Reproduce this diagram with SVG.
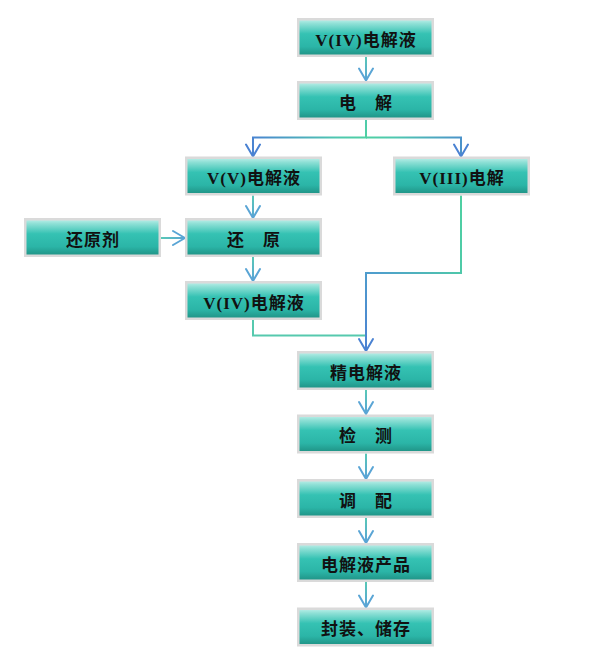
<svg xmlns="http://www.w3.org/2000/svg" width="592" height="664" viewBox="0 0 592 664">
<defs>
<linearGradient id="boxfill" x1="0" y1="0" x2="0" y2="1">
<stop offset="0" stop-color="#bdf0ea"/>
<stop offset="0.12" stop-color="#8fe0d6"/>
<stop offset="0.4" stop-color="#35c2b3"/>
<stop offset="0.75" stop-color="#2bb5a7"/>
<stop offset="1" stop-color="#1f9184"/>
</linearGradient>
<linearGradient id="gs" gradientUnits="userSpaceOnUse" x1="0" y1="0" x2="0" y2="24">
<stop offset="0" stop-color="#58c9b6"/>
<stop offset="1" stop-color="#5aa3d6"/>
</linearGradient>
<radialGradient id="gb" gradientUnits="userSpaceOnUse" cx="366" cy="137.5" r="116">
<stop offset="0" stop-color="#4fd0a2"/>
<stop offset="0.25" stop-color="#4fc8b0"/>
<stop offset="1" stop-color="#4a82d2"/>
</radialGradient>
<linearGradient id="g7" gradientUnits="userSpaceOnUse" x1="461" y1="195" x2="366" y2="351">
<stop offset="0" stop-color="#4fd0a2"/>
<stop offset="0.35" stop-color="#4fcaa8"/>
<stop offset="0.6" stop-color="#4f9fcc"/>
<stop offset="1" stop-color="#4a80d2"/>
</linearGradient>
<marker id="ah" viewBox="-14 -9 16 18" markerWidth="16" markerHeight="18" refX="0" refY="0" orient="auto" markerUnits="userSpaceOnUse">
<path d="M-12,-7 L0,0 L-12,7" fill="none" stroke="#5aa5d5" stroke-width="2" stroke-linejoin="round" stroke-linecap="round"/>
</marker>
<marker id="ahb" viewBox="-14 -9 16 18" markerWidth="16" markerHeight="18" refX="0" refY="0" orient="auto" markerUnits="userSpaceOnUse">
<path d="M-12,-7 L0,0 L-12,7" fill="none" stroke="#4a82d2" stroke-width="2" stroke-linejoin="round" stroke-linecap="round"/>
</marker>
</defs>
<style>
.box{fill:url(#boxfill);stroke:#dadada;stroke-width:2.5}
.lbl{font-family:"Liberation Serif","Noto Sans CJK SC",serif;font-size:17px;font-weight:bold;fill:#111;letter-spacing:1px;text-anchor:middle}
.c{fill:none;stroke-width:2}
.cs{stroke:url(#gs);marker-end:url(#ah)}
</style>
<rect width="592" height="664" fill="#ffffff"/>
<g id="connectors">
<path class="c cs" d="M0,0 V24" transform="translate(366,56.5)"/>
<path class="c" d="M366,120 V137.5 H253 V156.5" stroke="url(#gb)" marker-end="url(#ahb)"/>
<path class="c" d="M366,137.5 H461 V156.5" stroke="url(#gb)" marker-end="url(#ahb)"/>
<path class="c cs" d="M0,0 V22.5" transform="translate(253,195.5)"/>
<path class="c cs" d="M0,0 V24" transform="translate(161,238) rotate(-90)"/>
<path class="c cs" d="M0,0 V24" transform="translate(253,257)"/>
<path class="c" d="M253,320 V335.5 H366" stroke="#56c9ae"/>
<path class="c" d="M461,195.5 V273 H366 V351" stroke="url(#g7)" marker-end="url(#ahb)"/>
<path class="c cs" d="M0,0 V24" transform="translate(366,390)"/>
<path class="c cs" d="M0,0 V25.5" transform="translate(366,453.5)"/>
<path class="c cs" d="M0,0 V25" transform="translate(366,518)"/>
<path class="c cs" d="M0,0 V25.5" transform="translate(366,582)"/>
</g>
<g id="n1" transform="translate(297,18)"><rect class="box" x="1.25" y="1.25" width="134.5" height="36.5"/><text class="lbl" x="69" y="27.5">V(IV)电解液</text></g>
<g id="n2" transform="translate(297,81)"><rect class="box" x="1.25" y="1.25" width="134.5" height="36.5"/><text class="lbl" x="69" y="27.5">电　解</text></g>
<g id="n3" transform="translate(185,156.5)"><rect class="box" x="1.25" y="1.25" width="134.5" height="36.5"/><text class="lbl" x="69" y="27.5">V(V)电解液</text></g>
<g id="n4" transform="translate(393,156.5)"><rect class="box" x="1.25" y="1.25" width="134.5" height="36.5"/><text class="lbl" x="69" y="27.5">V(III)电解</text></g>
<g id="n5" transform="translate(24,218)"><rect class="box" x="1.25" y="1.25" width="134.5" height="36.5"/><text class="lbl" x="69" y="27.5">还原剂</text></g>
<g id="n6" transform="translate(185,218)"><rect class="box" x="1.25" y="1.25" width="134.5" height="36.5"/><text class="lbl" x="69" y="27.5">还　原</text></g>
<g id="n7" transform="translate(185,281)"><rect class="box" x="1.25" y="1.25" width="134.5" height="36.5"/><text class="lbl" x="69" y="27.5">V(IV)电解液</text></g>
<g id="n8" transform="translate(297,351)"><rect class="box" x="1.25" y="1.25" width="134.5" height="36.5"/><text class="lbl" x="69" y="27.5">精电解液</text></g>
<g id="n9" transform="translate(297,414.5)"><rect class="box" x="1.25" y="1.25" width="134.5" height="36.5"/><text class="lbl" x="69" y="27.5">检　测</text></g>
<g id="n10" transform="translate(297,479)"><rect class="box" x="1.25" y="1.25" width="134.5" height="36.5"/><text class="lbl" x="69" y="27.5">调　配</text></g>
<g id="n11" transform="translate(297,543)"><rect class="box" x="1.25" y="1.25" width="134.5" height="36.5"/><text class="lbl" x="69" y="27.5">电解液产品</text></g>
<g id="n12" transform="translate(297,607.5)"><rect class="box" x="1.25" y="1.25" width="134.5" height="36.5"/><text class="lbl" x="69" y="27.5">封装、储存</text></g>
</svg>
